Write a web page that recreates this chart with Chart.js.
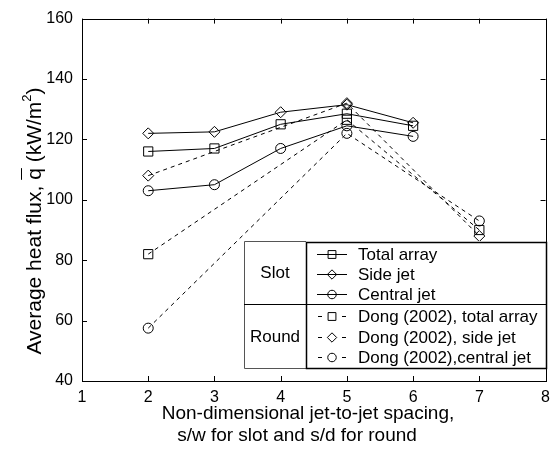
<!DOCTYPE html>
<html>
<head>
<meta charset="utf-8">
<script src="https://cdn.jsdelivr.net/npm/chart.js@4.4.0/dist/chart.umd.min.js"></script>
<style>
  body { margin: 0; background: #fff; }
</style>
</head>
<body>
<canvas id="fluxChart" width="557" height="454"></canvas>
<script>
// slot jets (this study)
const slotSpacing = [2, 3, 4, 5, 6];
const slotTotal = [116, 117, 125, 128.5, 124.5];
const slotSide = [122, 122.5, 129, 131.5, 125.5];
const slotCentral = [103, 105, 117, 124.5, 121];

// round jets, Dong (2002)
const roundSpacing = [2, 5, 7];
const roundTotal = [82, 126.5, 90];
const roundSide = [108, 132, 88];
const roundCentral = [57.5, 122, 93];

const xTicks = [1, 2, 3, 4, 5, 6, 7, 8];
const yTicks = [40, 60, 80, 100, 120, 140, 160];

const slotLabels = ['Total array', 'Side jet', 'Central jet'];
const roundLabels = ['Dong (2002), total array', 'Dong (2002), side jet', 'Dong (2002),central jet'];

const FONT = '"Liberation Sans", Arial, Helvetica, sans-serif';

function pts(xs, ys) {
    return xs.map((x, i) => ({ x: x, y: ys[i] }));
}

const markers = [
    { style: 'rect', radius: 6.5 },
    { style: 'rectRot', radius: 5.5 },
    { style: 'circle', radius: 5 }
];

function series(label, xs, ys, m, dashed) {
    return {
        label: label,
        data: pts(xs, ys),
        borderColor: '#000',
        backgroundColor: 'rgba(0,0,0,0)',
        borderWidth: 1,
        borderDash: dashed ? [4, 4] : [],
        pointStyle: m.style,
        pointRadius: m.radius,
        pointBorderColor: '#000',
        pointBackgroundColor: 'rgba(0,0,0,0)',
        pointBorderWidth: 1,
        tension: 0,
        fill: false
    };
}

const datasets = [
    series(slotLabels[0], slotSpacing, slotTotal, markers[0], false),
    series(slotLabels[1], slotSpacing, slotSide, markers[1], false),
    series(slotLabels[2], slotSpacing, slotCentral, markers[2], false),
    series(roundLabels[0], roundSpacing, roundTotal, markers[0], true),
    series(roundLabels[1], roundSpacing, roundSide, markers[1], true),
    series(roundLabels[2], roundSpacing, roundCentral, markers[2], true)
];

// axes box, inward ticks, titles and the table-like legend
const framePlugin = {
    id: 'frame',
    afterDraw(chart) {
        const ctx = chart.ctx;
        const a = chart.chartArea;
        const xs = chart.scales.x, ys = chart.scales.y;
        ctx.save();
        ctx.strokeStyle = '#000';
        ctx.lineWidth = 1;
        ctx.setLineDash([]);
        ctx.strokeRect(Math.round(a.left) + 0.5, Math.round(a.top) + 0.5,
            Math.round(a.right - a.left), Math.round(a.bottom - a.top));

        ctx.beginPath();
        xTicks.forEach(v => {
            const px = Math.round(xs.getPixelForValue(v)) + 0.5;
            ctx.moveTo(px, a.bottom); ctx.lineTo(px, a.bottom - 5);
            ctx.moveTo(px, a.top); ctx.lineTo(px, a.top + 5);
        });
        yTicks.forEach(v => {
            const py = Math.round(ys.getPixelForValue(v)) + 0.5;
            ctx.moveTo(a.left, py); ctx.lineTo(a.left + 5, py);
            ctx.moveTo(a.right, py); ctx.lineTo(a.right - 5, py);
        });
        ctx.stroke();

        // x title
        ctx.fillStyle = '#000';
        ctx.font = '19px ' + FONT;
        ctx.textAlign = 'center';
        ctx.textBaseline = 'alphabetic';
        ctx.fillText('Non-dimensional jet-to-jet spacing,', 308, 419);
        ctx.fillText('s/w for slot and s/d for round', 297, 441);

        // y title with overlined q and superscript 2
        const ySize = 21;
        ctx.save();
        ctx.translate(41, 221);
        ctx.rotate(-Math.PI / 2);
        const parts = ['Average heat flux, ', 'q', ' (kW/m', '2', ')'];
        ctx.font = ySize + 'px ' + FONT;
        const w0 = ctx.measureText(parts[0]).width;
        const w1 = ctx.measureText(parts[1]).width;
        const w2 = ctx.measureText(parts[2]).width;
        ctx.font = '13px ' + FONT;
        const w3 = ctx.measureText(parts[3]).width;
        ctx.font = ySize + 'px ' + FONT;
        const w4 = ctx.measureText(parts[4]).width;
        let x = -(w0 + w1 + w2 + w3 + w4) / 2;
        ctx.textAlign = 'left';
        ctx.fillText(parts[0], x, 0); x += w0;
        ctx.fillText(parts[1], x, 0);
        ctx.beginPath();
        ctx.moveTo(x, -19.5); ctx.lineTo(x + w1, -19.5);
        ctx.stroke();
        x += w1;
        ctx.fillText(parts[2], x, 0); x += w2;
        ctx.font = '13px ' + FONT;
        ctx.fillText(parts[3], x, -10); x += w3;
        ctx.font = ySize + 'px ' + FONT;
        ctx.fillText(parts[4], x, 0);
        ctx.restore();

        // legend table
        const L = 244, M = 306, R = Math.round(a.right), T = 241, H = 304, B = 368;
        ctx.fillStyle = '#fff';
        ctx.fillRect(L, T, R - L, B - T);
        ctx.strokeStyle = '#555';
        ctx.beginPath();
        ctx.moveTo(L + 0.5, T + 0.5); ctx.lineTo(M, T + 0.5);
        ctx.moveTo(L + 0.5, T + 0.5); ctx.lineTo(L + 0.5, B + 0.5);
        ctx.lineTo(M, B + 0.5);
        ctx.stroke();
        ctx.strokeStyle = '#000';
        ctx.lineWidth = 1.5;
        ctx.strokeRect(M + 0.5, T + 1.5, R - M, B - T - 1);
        ctx.lineWidth = 1;
        ctx.beginPath();
        ctx.moveTo(L, H + 0.5); ctx.lineTo(R, H + 0.5);
        ctx.stroke();

        ctx.fillStyle = '#000';
        ctx.font = '17px ' + FONT;
        ctx.textAlign = 'center';
        ctx.textBaseline = 'middle';
        ctx.fillText('Slot', (L + M) / 2, (T + H) / 2 + 1);
        ctx.fillText('Round', (L + M) / 2, (H + B) / 2 + 1);

        const rows = [254, 274, 294, 316, 337, 357];
        const labels = slotLabels.concat(roundLabels);
        labels.forEach((lab, i) => {
            const y = rows[i] + 0.5;
            const m = markers[i % 3];
            ctx.strokeStyle = '#000';
            ctx.lineWidth = 1;
            ctx.beginPath();
            if (i < 3) {
                ctx.moveTo(317, y); ctx.lineTo(347, y);
            } else {
                ctx.moveTo(318, y); ctx.lineTo(322, y);
                ctx.moveTo(342, y); ctx.lineTo(346, y);
            }
            ctx.stroke();
            ctx.fillStyle = 'rgba(0,0,0,0)';
            Chart.helpers.drawPoint(ctx, {
                pointStyle: m.style, rotation: 0, borderWidth: 1, radius: m.radius * 0.85
            }, 332, y);
            ctx.fillStyle = '#000';
            ctx.textAlign = 'left';
            ctx.fillText(lab, 358, rows[i] + 1);
        });
        ctx.restore();
    }
};

new Chart(document.getElementById('fluxChart'), {
    type: 'line',
    data: { datasets: datasets },
    options: {
        responsive: false,
        animation: false,
        devicePixelRatio: 1,
        layout: { padding: { top: 15, right: 6, left: 0, bottom: 0 } },
        plugins: {
            legend: { display: false },
            tooltip: { enabled: false }
        },
        scales: {
            x: {
                type: 'linear',
                min: 1,
                max: 8,
                afterFit(s) { s.height = 73; },
                afterBuildTicks(s) { s.ticks = xTicks.map(v => ({ value: v })); },
                ticks: { color: '#000', font: { family: FONT, size: 16 }, padding: 7, maxRotation: 0 },
                grid: { display: false, drawTicks: false },
                border: { display: false }
            },
            y: {
                type: 'linear',
                min: 40,
                max: 160,
                afterFit(s) { s.width = 82; },
                afterBuildTicks(s) { s.ticks = yTicks.map(v => ({ value: v })); },
                ticks: { color: '#000', font: { family: FONT, size: 16 }, padding: 9 },
                grid: { display: false, drawTicks: false },
                border: { display: false }
            }
        }
    },
    plugins: [framePlugin]
});
</script>
</body>
</html>
